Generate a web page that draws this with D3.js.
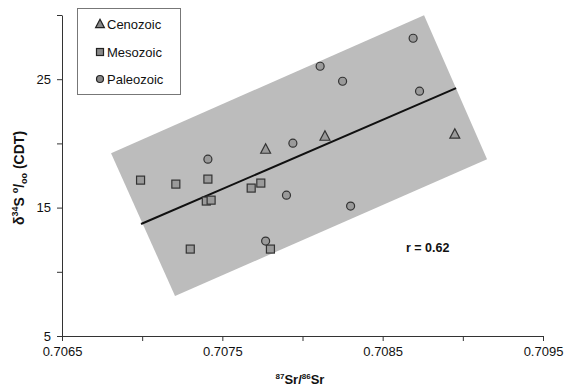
<!DOCTYPE html>
<html>
<head>
<meta charset="utf-8">
<script src="https://cdn.jsdelivr.net/npm/d3@7"></script>
<style>
  html, body { margin: 0; padding: 0; background: #fff; }
  svg { display: block; font-family: "Liberation Sans", Arial, sans-serif; }
</style>
</head>
<body>
<svg id="chart" width="565" height="390"></svg>
<script>
// ---- data ----
const cenozoicX = [0.70777, 0.70814, 0.70895];
const cenozoicY = [19.55, 20.56, 20.72];

const mesozoicX = [0.70699, 0.70721, 0.70741, 0.70740, 0.70743, 0.70768, 0.70774, 0.70730, 0.70780];
const mesozoicY = [17.14, 16.83, 17.22, 15.51, 15.58, 16.52, 16.91, 11.77, 11.77];

const paleozoicX = [0.70869, 0.70811, 0.70825, 0.70873, 0.70794, 0.70741, 0.70790, 0.70830, 0.70777];
const paleozoicY = [28.19, 26.01, 24.84, 24.07, 20.02, 18.77, 15.97, 15.12, 12.39];

// regression line end points
const fitX = [0.706993, 0.708958];
const fitY = [13.72, 24.30];

// shaded band (parallelogram) corners
const bandX = [0.706806, 0.708758, 0.709151, 0.707205];
const bandY = [19.24, 29.98, 18.77, 8.11];

const xTicks = [0.7065, 0.7070, 0.7075, 0.7080, 0.7085, 0.7090, 0.7095];
const xTickLabels = ["0.7065", "", "0.7075", "", "0.7085", "", "0.7095"];
const yTicks = [5, 10, 15, 20, 25, 30];
const yTickLabels = ["5", "", "15", "", "25", ""];

const legendNames = ["Cenozoic", "Mesozoic", "Paleozoic"];
const rLabel = "r = 0.62";

// ---- drawing ----
const svg = d3.select("#chart");
const x = d3.scaleLinear().domain([0.7065, 0.7095]).range([62, 543]);
const y = d3.scaleLinear().domain([5, 30]).range([336, 15]);

// band
const bandPts = bandX.map((v, i) => [x(v), y(bandY[i])]);
svg.append("polygon")
  .attr("points", bandPts.map(p => p.join(",")).join(" "))
  .attr("fill", "#bcbcbc");

// regression line
svg.append("line")
  .attr("x1", x(fitX[0])).attr("y1", y(fitY[0]))
  .attr("x2", x(fitX[1])).attr("y2", y(fitY[1]))
  .attr("stroke", "#111").attr("stroke-width", 2);

// axes
const xAxis = d3.axisBottom(x).tickValues(xTicks)
  .tickFormat((d, i) => xTickLabels[i]).tickSize(5).tickSizeOuter(0).tickPadding(6);
const gx = svg.append("g").attr("transform", "translate(0,336)").call(xAxis);
const yAxis = d3.axisLeft(y).tickValues(yTicks)
  .tickFormat((d, i) => yTickLabels[i]).tickSize(5).tickSizeOuter(0).tickPadding(6);
const gy = svg.append("g").attr("transform", "translate(62,0)").call(yAxis);
[gx, gy].forEach(g => {
  g.selectAll("path, line").attr("stroke", "#333");
  g.selectAll("text").attr("font-size", 13).attr("fill", "#111")
    .attr("font-family", "\"Liberation Sans\", Arial, sans-serif");
});

// markers
const markerFill = "#9a9a9a";
const markerStroke = "#333";
function tri(cx, cy, s) {
  return `M${cx},${cy - s * 0.6} L${cx + s * 0.55},${cy + s * 0.45} L${cx - s * 0.55},${cy + s * 0.45} Z`;
}
svg.append("g").selectAll("path").data(cenozoicX).join("path")
  .attr("d", (d, i) => tri(x(d), y(cenozoicY[i]), 9))
  .attr("fill", markerFill).attr("stroke", markerStroke).attr("stroke-width", 1.2);
svg.append("g").selectAll("rect").data(mesozoicX).join("rect")
  .attr("x", d => x(d) - 4).attr("y", (d, i) => y(mesozoicY[i]) - 4)
  .attr("width", 8).attr("height", 8)
  .attr("fill", markerFill).attr("stroke", markerStroke).attr("stroke-width", 1.2);
svg.append("g").selectAll("circle").data(paleozoicX).join("circle")
  .attr("cx", d => x(d)).attr("cy", (d, i) => y(paleozoicY[i])).attr("r", 4)
  .attr("fill", markerFill).attr("stroke", markerStroke).attr("stroke-width", 1.2);

// legend
const lg = svg.append("g");
lg.append("rect").attr("x", 77.5).attr("y", 8.5).attr("width", 103).attr("height", 86)
  .attr("fill", "#fff").attr("stroke", "#777").attr("stroke-width", 1);
const legY = [24, 52, 79];
legendNames.forEach((name, i) => {
  const cy = legY[i];
  if (i === 0) lg.append("path").attr("d", tri(100, cy, 8));
  else if (i === 1) lg.append("rect").attr("x", 96.5).attr("y", cy - 3.5).attr("width", 7).attr("height", 7);
  else lg.append("circle").attr("cx", 100).attr("cy", cy).attr("r", 3.5);
  lg.selectAll(":last-child").attr("fill", "#888").attr("stroke", "#222").attr("stroke-width", 1.2);
  lg.append("text").attr("x", 107).attr("y", cy + 5).attr("font-size", 13).attr("fill", "#111").text(name);
});

// r label
svg.append("text").attr("x", 406).attr("y", 252).attr("font-size", 12.5)
  .attr("font-weight", "bold").attr("fill", "#111").text(rLabel);

// x title
const xt = svg.append("text").attr("x", 300).attr("y", 384).attr("text-anchor", "middle")
  .attr("font-weight", "bold").attr("font-size", 13).attr("fill", "#111");
xt.append("tspan").attr("font-size", 8).attr("dy", -5).text("87");
xt.append("tspan").attr("dy", 5).text("Sr/");
xt.append("tspan").attr("font-size", 8).attr("dy", -5).text("86");
xt.append("tspan").attr("dy", 5).text("Sr");

// y title
const yt = svg.append("text").attr("transform", "translate(24,178) rotate(-90)")
  .attr("text-anchor", "middle").attr("font-weight", "bold").attr("font-size", 14).attr("fill", "#111");
yt.append("tspan").text("δ");
yt.append("tspan").attr("font-size", 9).attr("dy", -6).text("34");
yt.append("tspan").attr("dy", 6).text("S ");
yt.append("tspan").attr("font-size", 9).attr("dy", -6).text("o");
yt.append("tspan").attr("dy", 6).text("/");
yt.append("tspan").attr("font-size", 9).attr("dy", 3).text("oo");
yt.append("tspan").attr("dy", -3).text(" (CDT)");
</script>
</body>
</html>
